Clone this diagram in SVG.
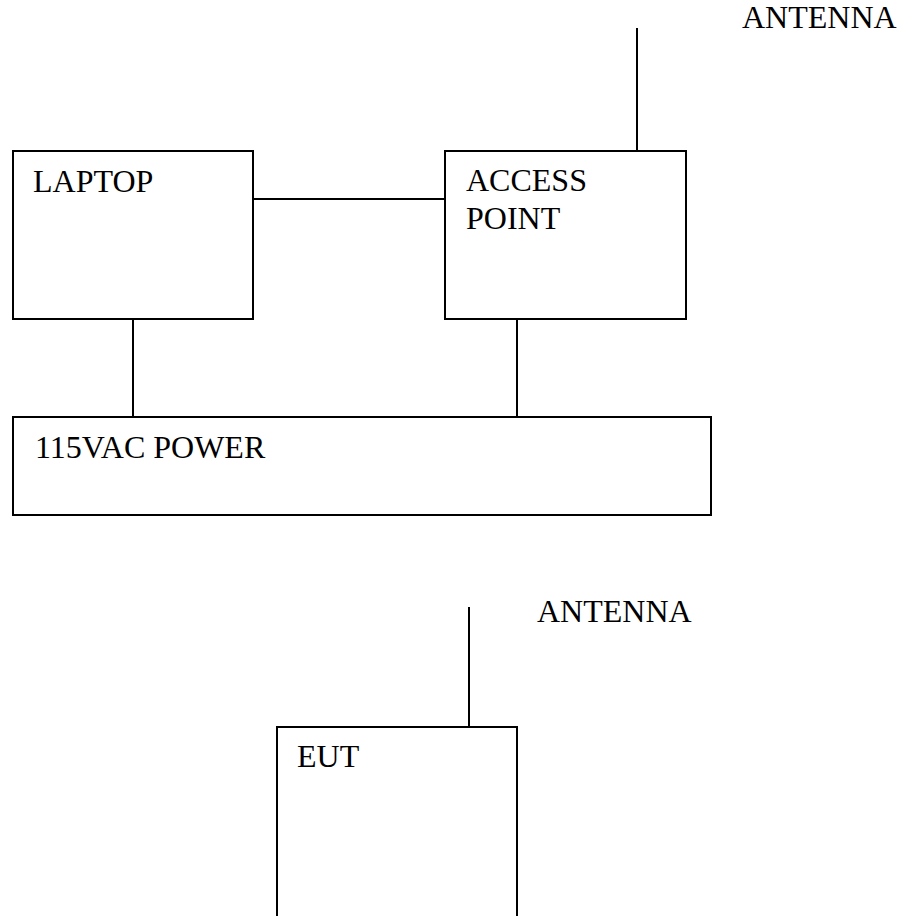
<svg xmlns="http://www.w3.org/2000/svg" width="900" height="916" viewBox="0 0 900 916">
<style>
.box{fill:#fff;stroke:#000;stroke-width:2}
.ln{stroke:#000;stroke-width:2;fill:none}
text{font-family:"Liberation Serif","Times New Roman",serif;font-size:32px;fill:#000}
</style>
<rect width="900" height="916" fill="#fff"/>
<g id="connectors">
<line class="ln" x1="253" y1="199" x2="445" y2="199"/>
<line class="ln" x1="133" y1="319" x2="133" y2="417"/>
<line class="ln" x1="517" y1="319" x2="517" y2="417"/>
<line class="ln" x1="637" y1="28" x2="637" y2="151"/>
<line class="ln" x1="469" y1="607" x2="469" y2="727"/>
</g>
<g id="laptop">
<rect class="box" x="13" y="151" width="240" height="168"/>
<text x="33" y="192">LAPTOP</text>
</g>
<g id="access-point">
<rect class="box" x="445" y="151" width="241" height="168"/>
<text x="466" y="191">ACCESS</text>
<text x="466" y="229">POINT</text>
</g>
<g id="antenna1">
<text x="742" y="28">ANTENNA</text>
</g>
<g id="power">
<rect class="box" x="13" y="417" width="698" height="98"/>
<text x="35" y="458">115VAC POWER</text>
</g>
<g id="eut">
<path class="ln" d="M277,930 V727 H517 V930"/>
<text x="297" y="767">EUT</text>
</g>
<g id="antenna2">
<text x="537" y="622">ANTENNA</text>
</g>
</svg>
